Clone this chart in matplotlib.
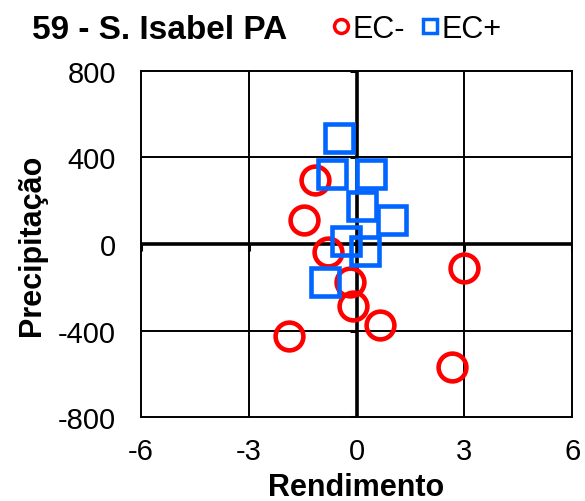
import numpy as np
import matplotlib.pyplot as plt
from matplotlib.lines import Line2D

plt.rcParams['font.family'] = ['Liberation Sans', 'DejaVu Sans']
plt.rcParams['axes.unicode_minus'] = False

## Yield vs precipitation anomalies
ecNegX = [-1.16, -1.46, -0.80, -0.18, -0.09, 0.64, -1.87, 2.98, 2.67]
ecNegY = [297, 112, -38, -174, -285, -373, -424, -111, -570]
ecPosX = [-0.48, -0.69, 0.39, 0.16, 0.98, -0.30, 0.24, -0.88]
ecPosY = [490, 324, 324, 177, 112, 15, -31, -177]

xTicks = [-6, -3, 0, 3, 6]
yTicks = [-800, -400, 0, 400, 800]

red = '#ff0000'
blue = '#0066ff'

fig = plt.figure(figsize=(5.85, 5.02), dpi=100)
ax = fig.add_axes([0.241, 0.167, 0.737, 0.690])

for v in [-3, 3]:
    ax.axvline(v, color='black', lw=1.4, zorder=1)
for v in [-400, 400]:
    ax.axhline(v, color='black', lw=1.4, zorder=1)
ax.axvline(0, color='black', lw=2.6, zorder=1)
ax.axhline(0, color='black', lw=2.6, zorder=1)

# small tick marks along the centre axes
ax.plot(xTicks, [0]*len(xTicks), ls='none', marker=3, ms=5, mew=2.2, color='black', zorder=1)
ax.plot([0]*len(yTicks), yTicks, ls='none', marker=0, ms=5, mew=2.2, color='black', zorder=1)

ax.plot(ecNegX, ecNegY, ls='none', marker='o', ms=20, mfc='none', mec=red, mew=3.3, zorder=3)
ax.plot(ecPosX, ecPosY, ls='none', marker='s', ms=20, mfc='none', mec=blue, mew=3.3, zorder=3)

ax.set_xlim(-6, 6)
ax.set_ylim(-800, 800)
ax.set_xticks(xTicks)
ax.set_yticks(yTicks)
ax.tick_params(length=0, labelsize=21)
ax.tick_params(axis='y', pad=18)
ax.tick_params(axis='x', pad=14)
for s in ax.spines.values():
    s.set_linewidth(1.4)

ax.set_xlabel('Rendimento', fontsize=22, fontweight='bold', labelpad=5)
ax.set_ylabel('Precipitação', fontsize=22, fontweight='bold', labelpad=8)

fig.text(0.055, 0.94, '59 - S. Isabel PA', fontsize=24, fontweight='bold', va='center')

handles = [Line2D([], [], ls='none', marker='o', ms=10, mfc='none', mec=red, mew=2.5),
           Line2D([], [], ls='none', marker='s', ms=10, mfc='none', mec=blue, mew=2.5)]
fig.legend(handles, ['EC-', 'EC+'], loc='center', bbox_to_anchor=(0.713, 0.94), ncol=2,
           frameon=False, fontsize=22, handlelength=0.55, handletextpad=0.1,
           columnspacing=0.55)

plt.savefig('out.png', dpi=100)
